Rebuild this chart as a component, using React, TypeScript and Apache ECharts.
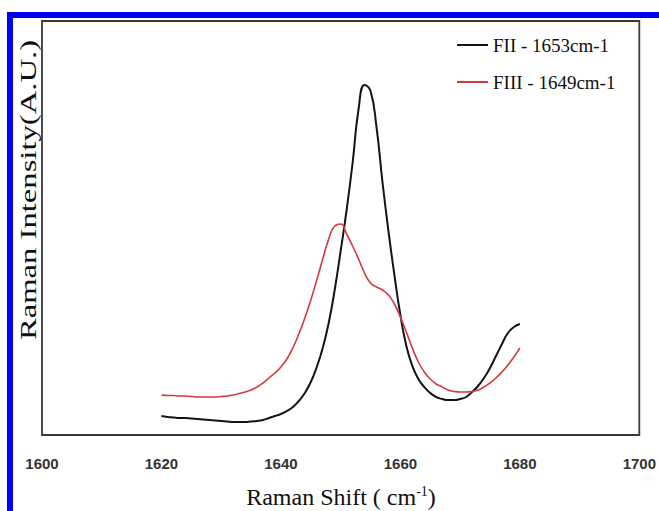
import React, { useEffect, useRef } from "react";
import * as echarts from "echarts";

const xTicks = [1600, 1620, 1640, 1660, 1680, 1700];
const seriesNames = ["FII - 1653cm-1", "FIII - 1649cm-1"];

const ramanShift = [
  1620, 1621, 1622, 1623, 1624, 1625, 1626, 1627, 1628, 1629,
  1630, 1631, 1632, 1633, 1634, 1635, 1636, 1637, 1638, 1639,
  1640, 1641, 1642, 1643, 1644, 1645, 1646, 1647, 1648, 1649,
  1650, 1651, 1652, 1653, 1654, 1655, 1656, 1657, 1658, 1659,
  1660, 1661, 1662, 1663, 1664, 1665, 1666, 1667, 1668, 1669,
  1670, 1671, 1672, 1673, 1674, 1675, 1676, 1677, 1678, 1679,
  1680,
];
const fiiIntensity = [
  19, 18, 17.5, 17, 17, 16.5, 16, 15.5, 15, 14.5,
  14, 13.5, 13, 13, 13, 13.5, 14, 15, 17, 19,
  21, 24, 28, 34, 42, 53, 68, 87, 112, 145,
  184, 225, 272, 326, 350, 344, 308, 253, 204, 160,
  120, 89, 69, 56, 48, 42, 38, 36, 35, 35,
  36, 38, 43, 49, 57, 67, 79, 91, 102, 108,
  111,
];
const fiiiIntensity = [
  40, 39.5, 39.5, 39, 39, 38.5, 38, 38, 38, 38,
  38.5, 39, 40, 41.5, 43, 45, 48, 52, 57, 62,
  68, 76, 87, 101, 117, 135, 155, 176, 196, 209,
  211, 201, 189, 176, 162, 152, 148, 145, 140, 131,
  118, 103, 87, 73, 63, 56, 51, 48, 45, 43.5,
  43, 43, 43.5, 45, 48, 52, 57, 63, 70, 78,
  87,
];

const pair = (xs: number[], ys: number[]) => xs.map((x, i) => [x, ys[i]]);

export default function App() {
  const ref = useRef<HTMLDivElement>(null);

  useEffect(() => {
    if (!ref.current) return;
    const chart = echarts.init(ref.current, null, { renderer: "svg" });
    const serif = "'Liberation Serif', 'Times New Roman', serif";
    chart.setOption({
      animation: false,
      backgroundColor: "#ffffff",
      grid: {
        left: 42,
        top: 21,
        right: 19,
        bottom: 76,
        show: true,
        borderColor: "#3a3a3a",
        borderWidth: 1.8,
        backgroundColor: "transparent",
      },
      legend: {
        orient: "vertical",
        left: 457,
        top: 35,
        padding: 0,
        itemWidth: 31,
        itemHeight: 2,
        itemGap: 17,
        icon: "rect",
        data: seriesNames,
        textStyle: {
          fontFamily: serif,
          fontSize: 19,
          lineHeight: 20,
          color: "#111",
        },
      },
      xAxis: {
        type: "value",
        min: xTicks[0],
        max: xTicks[xTicks.length - 1],
        interval: xTicks[1] - xTicks[0],
        axisLine: { show: false },
        axisTick: { show: false },
        splitLine: { show: false },
        axisLabel: {
          margin: 21,
          fontFamily: "'Liberation Sans', Arial, sans-serif",
          fontWeight: "bold",
          fontSize: 15,
          color: "#333",
          showMinLabel: true,
          showMaxLabel: true,
          formatter: (v: number) => String(v),
        },
      },
      yAxis: {
        type: "value",
        min: 0,
        max: 414,
        show: false,
        splitLine: { show: false },
      },
      series: [
        {
          name: seriesNames[0],
          type: "line",
          data: pair(ramanShift, fiiIntensity),
          smooth: 0.5,
          showSymbol: false,
          symbol: "none",
          lineStyle: { color: "#141414", width: 2 },
          itemStyle: { color: "#141414" },
        },
        {
          name: seriesNames[1],
          type: "line",
          data: pair(ramanShift, fiiiIntensity),
          smooth: 0.5,
          showSymbol: false,
          symbol: "none",
          lineStyle: { color: "#d13a3f", width: 1.6 },
          itemStyle: { color: "#d13a3f" },
        },
      ],
      graphic: [
        {
          type: "rect",
          shape: { x: 7, y: 12, width: 652, height: 6 },
          style: { fill: "#0000f5" },
          silent: true,
        },
        {
          type: "rect",
          shape: { x: 7, y: 12, width: 6, height: 499 },
          style: { fill: "#0000f5" },
          silent: true,
        },
        {
          type: "text",
          x: 28,
          y: 190,
          rotation: Math.PI / 2,
          scaleX: 1.42,
          style: {
            text: "Raman Intensity(A.U.)",
            fontFamily: serif,
            fontSize: 23,
            fill: "#111",
            align: "center",
            verticalAlign: "middle",
            textAlign: "center",
            textVerticalAlign: "middle",
          },
        },
        {
          type: "text",
          x: 341,
          y: 497,
          style: {
            text: "{a|Raman Shift ( cm}{b|-1}{a|)}",
            fill: "#111",
            align: "center",
            verticalAlign: "middle",
            textAlign: "center",
            textVerticalAlign: "middle",
            rich: {
              a: { fontFamily: serif, fontSize: 24, lineHeight: 26, color: "#111" },
              b: { fontFamily: serif, fontSize: 14, verticalAlign: "top", color: "#111" },
            },
          },
        },
      ],
    });
    return () => chart.dispose();
  }, []);

  return (
    <div
      ref={ref}
      style={{ position: "absolute", left: 0, top: 0, width: 659, height: 511 }}
    />
  );
}
